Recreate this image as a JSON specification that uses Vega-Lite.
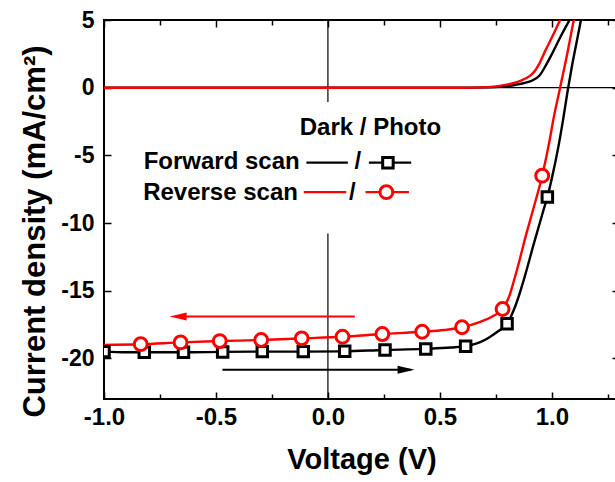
{
  "$schema": "https://vega.github.io/schema/vega-lite/v6.json",
  "width": 515,
  "height": 379,
  "autosize": {"type": "none"},
  "padding": {"left": 104, "top": 20, "right": 0, "bottom": 83},
  "background": "white",
  "data": {"values": [{}]},
  "datasets": {
    "dark": [
      {"scan": "Forward", "V": -1.0, "J": 0}, {"scan": "Forward", "V": 0.6, "J": 0}, {"scan": "Forward", "V": 0.7, "J": 0.02},
      {"scan": "Forward", "V": 0.76, "J": 0.06}, {"scan": "Forward", "V": 0.8, "J": 0.12}, {"scan": "Forward", "V": 0.84, "J": 0.22},
      {"scan": "Forward", "V": 0.88, "J": 0.36}, {"scan": "Forward", "V": 0.915, "J": 0.55}, {"scan": "Forward", "V": 0.945, "J": 0.9},
      {"scan": "Forward", "V": 0.975, "J": 1.7}, {"scan": "Forward", "V": 1.004, "J": 2.6}, {"scan": "Forward", "V": 1.04, "J": 3.8},
      {"scan": "Forward", "V": 1.079, "J": 5.0}, {"scan": "Forward", "V": 1.1, "J": 5.7},
      {"scan": "Reverse", "V": -1.0, "J": 0}, {"scan": "Reverse", "V": 0.6, "J": 0}, {"scan": "Reverse", "V": 0.68, "J": 0.02},
      {"scan": "Reverse", "V": 0.74, "J": 0.08}, {"scan": "Reverse", "V": 0.78, "J": 0.17}, {"scan": "Reverse", "V": 0.82, "J": 0.3},
      {"scan": "Reverse", "V": 0.86, "J": 0.5}, {"scan": "Reverse", "V": 0.9, "J": 0.85}, {"scan": "Reverse", "V": 0.92, "J": 1.15},
      {"scan": "Reverse", "V": 0.945, "J": 1.8}, {"scan": "Reverse", "V": 0.97, "J": 2.7}, {"scan": "Reverse", "V": 1.0, "J": 3.7},
      {"scan": "Reverse", "V": 1.037, "J": 5.0}, {"scan": "Reverse", "V": 1.06, "J": 5.8}
    ],
    "photo": [
      {"scan": "Forward", "V": -1.0, "J": -19.5}, {"scan": "Forward", "V": -0.9, "J": -19.55}, {"scan": "Forward", "V": -0.82, "J": -19.55},
      {"scan": "Forward", "V": -0.65, "J": -19.55}, {"scan": "Forward", "V": -0.47, "J": -19.52}, {"scan": "Forward", "V": -0.29, "J": -19.5},
      {"scan": "Forward", "V": -0.11, "J": -19.5}, {"scan": "Forward", "V": 0.07, "J": -19.48}, {"scan": "Forward", "V": 0.25, "J": -19.38},
      {"scan": "Forward", "V": 0.43, "J": -19.3}, {"scan": "Forward", "V": 0.55, "J": -19.2}, {"scan": "Forward", "V": 0.62, "J": -19.08},
      {"scan": "Forward", "V": 0.68, "J": -18.8}, {"scan": "Forward", "V": 0.72, "J": -18.45}, {"scan": "Forward", "V": 0.76, "J": -18.0},
      {"scan": "Forward", "V": 0.8, "J": -17.44}, {"scan": "Forward", "V": 0.84, "J": -16.0}, {"scan": "Forward", "V": 0.88, "J": -13.9},
      {"scan": "Forward", "V": 0.92, "J": -11.5}, {"scan": "Forward", "V": 0.96, "J": -9.2}, {"scan": "Forward", "V": 0.98, "J": -8.08},
      {"scan": "Forward", "V": 1.0, "J": -6.7}, {"scan": "Forward", "V": 1.03, "J": -4.3}, {"scan": "Forward", "V": 1.05, "J": -2.4},
      {"scan": "Forward", "V": 1.07, "J": -0.3}, {"scan": "Forward", "V": 1.09, "J": 1.6}, {"scan": "Forward", "V": 1.11, "J": 3.3},
      {"scan": "Forward", "V": 1.13, "J": 5.0}, {"scan": "Forward", "V": 1.15, "J": 6.7},
      {"scan": "Reverse", "V": -1.0, "J": -19.0}, {"scan": "Reverse", "V": -0.836, "J": -18.95}, {"scan": "Reverse", "V": -0.658, "J": -18.82},
      {"scan": "Reverse", "V": -0.483, "J": -18.72}, {"scan": "Reverse", "V": -0.298, "J": -18.64}, {"scan": "Reverse", "V": -0.117, "J": -18.52},
      {"scan": "Reverse", "V": 0.065, "J": -18.4}, {"scan": "Reverse", "V": 0.243, "J": -18.2}, {"scan": "Reverse", "V": 0.421, "J": -18.03},
      {"scan": "Reverse", "V": 0.52, "J": -17.9}, {"scan": "Reverse", "V": 0.599, "J": -17.7}, {"scan": "Reverse", "V": 0.677, "J": -17.32},
      {"scan": "Reverse", "V": 0.74, "J": -16.85}, {"scan": "Reverse", "V": 0.78, "J": -16.35}, {"scan": "Reverse", "V": 0.81, "J": -15.4},
      {"scan": "Reverse", "V": 0.83, "J": -14.3}, {"scan": "Reverse", "V": 0.855, "J": -12.8}, {"scan": "Reverse", "V": 0.878, "J": -11.3},
      {"scan": "Reverse", "V": 0.92, "J": -8.8}, {"scan": "Reverse", "V": 0.957, "J": -6.5}, {"scan": "Reverse", "V": 0.99, "J": -3.9},
      {"scan": "Reverse", "V": 1.004, "J": -2.6}, {"scan": "Reverse", "V": 1.037, "J": 0}, {"scan": "Reverse", "V": 1.07, "J": 2.6},
      {"scan": "Reverse", "V": 1.098, "J": 5.0}, {"scan": "Reverse", "V": 1.12, "J": 6.8}
    ],
    "markers": [
      {"scan": "Forward", "V": -1.0, "J": -19.5}, {"scan": "Forward", "V": -0.82, "J": -19.55}, {"scan": "Forward", "V": -0.645, "J": -19.55},
      {"scan": "Forward", "V": -0.47, "J": -19.52}, {"scan": "Forward", "V": -0.293, "J": -19.5}, {"scan": "Forward", "V": -0.11, "J": -19.5},
      {"scan": "Forward", "V": 0.075, "J": -19.48}, {"scan": "Forward", "V": 0.255, "J": -19.38}, {"scan": "Forward", "V": 0.437, "J": -19.3},
      {"scan": "Forward", "V": 0.615, "J": -19.1}, {"scan": "Forward", "V": 0.8, "J": -17.44}, {"scan": "Forward", "V": 0.98, "J": -8.08},
      {"scan": "Reverse", "V": -0.836, "J": -18.95}, {"scan": "Reverse", "V": -0.658, "J": -18.82}, {"scan": "Reverse", "V": -0.483, "J": -18.72},
      {"scan": "Reverse", "V": -0.298, "J": -18.64}, {"scan": "Reverse", "V": -0.117, "J": -18.52}, {"scan": "Reverse", "V": 0.065, "J": -18.4},
      {"scan": "Reverse", "V": 0.243, "J": -18.2}, {"scan": "Reverse", "V": 0.421, "J": -18.03}, {"scan": "Reverse", "V": 0.599, "J": -17.7},
      {"scan": "Reverse", "V": 0.78, "J": -16.35}, {"scan": "Reverse", "V": 0.957, "J": -6.5}
    ],
    "arrows": [
      {"scan": "Reverse", "V": -0.68, "V2": 0.12, "J": -16.9},
      {"scan": "Forward", "V": -0.471, "V2": 0.37, "J": -20.84}
    ],
    "heads": [
      {"scan": "Reverse", "dir": "left", "V": -0.669, "J": -16.9},
      {"scan": "Forward", "dir": "right", "V": 0.349, "J": -20.84}
    ],
    "legLines": [
      {"scan": "Forward", "V": -0.096, "V2": 0.089, "J": -5.54},
      {"scan": "Forward", "V": 0.183, "V2": 0.372, "J": -5.54},
      {"scan": "Reverse", "V": -0.108, "V2": 0.082, "J": -7.72},
      {"scan": "Reverse", "V": 0.168, "V2": 0.362, "J": -7.72}
    ],
    "legMarks": [
      {"scan": "Forward", "V": 0.268, "J": -5.54},
      {"scan": "Reverse", "V": 0.261, "J": -7.72}
    ],
    "legNames": [
      {"label": "Forward scan", "V": -0.126, "J": -5.99},
      {"label": "Reverse scan", "V": -0.134, "J": -8.28}
    ],
    "legHeads": [
      {"label": "Dark / Photo", "V": 0.19, "J": -3.53},
      {"label": "/", "V": 0.134, "J": -5.99},
      {"label": "/", "V": 0.109, "J": -8.28}
    ]
  },
  "resolve": {"axis": {"x": "independent", "y": "independent"}, "scale": {"shape": "independent"}},
  "layer": [
    {
      "mark": {"type": "rule", "color": "black", "strokeWidth": 1.2},
      "encoding": {
        "y": {"datum": 0, "type": "quantitative", "scale": {"domain": [-23, 5], "nice": false, "zero": false}, "axis": null}
      }
    },
    {
      "mark": {"type": "rule", "color": "black", "strokeWidth": 1.2},
      "encoding": {
        "x": {"datum": 0, "type": "quantitative", "scale": {"domain": [-1, 1.3], "nice": false, "zero": false}, "axis": null}
      }
    },
    {
      "mark": {"type": "rect", "color": "white"},
      "encoding": {
        "x": {"datum": -0.85, "type": "quantitative", "scale": {"domain": [-1, 1.3], "nice": false, "zero": false}, "axis": null},
        "x2": {"datum": 0.55},
        "y": {"datum": -1.06, "type": "quantitative", "scale": {"domain": [-23, 5], "nice": false, "zero": false}, "axis": null},
        "y2": {"datum": -10.77}
      }
    },
    {
      "data": {"name": "dark"},
      "mark": {"type": "line", "strokeWidth": 2.4, "clip": true, "interpolate": "monotone"},
      "encoding": {
        "x": {"field": "V", "type": "quantitative", "scale": {"domain": [-1, 1.3], "nice": false, "zero": false},
          "axis": {"orient": "bottom", "values": [-1, -0.5, 0, 0.5, 1], "labelExpr": "replace(format(datum.value, '.1f'), '\u2212', '-')",
            "ticks": false, "domain": false, "labelFontSize": 24, "labelPadding": 6, "labelFlush": false, "labelOverlap": false,
            "title": "Voltage (V)", "titleFontSize": 29, "titlePadding": 16}},
        "y": {"field": "J", "type": "quantitative", "scale": {"domain": [-23, 5], "nice": false, "zero": false},
          "axis": {"orient": "left", "values": [-20, -15, -10, -5, 0, 5], "labelExpr": "'' + datum.value",
            "ticks": false, "domain": false, "labelFontSize": 23, "labelPadding": 10, "labelFlush": false, "labelOverlap": false,
            "title": "Current density (mA/cm²)", "titleFontSize": 31, "titlePadding": 9, "titleY": 211}},
        "color": {"field": "scan", "type": "nominal", "scale": {"domain": ["Forward", "Reverse"], "range": ["black", "#ff0000"]}, "legend": null}
      }
    },
    {
      "data": {"name": "photo"},
      "mark": {"type": "line", "strokeWidth": 2.4, "clip": true, "interpolate": "monotone"},
      "encoding": {
        "x": {"field": "V", "type": "quantitative", "scale": {"domain": [-1, 1.3], "nice": false, "zero": false},
          "axis": {"orient": "bottom", "values": [-1, -0.5, 0, 0.5, 1], "tickSize": -7, "tickWidth": 1.5, "labels": false, "domain": false, "title": null}},
        "y": {"field": "J", "type": "quantitative", "scale": {"domain": [-23, 5], "nice": false, "zero": false},
          "axis": {"orient": "left", "values": [-20, -15, -10, -5, 0, 5], "tickSize": -7, "tickWidth": 1.5, "labels": false, "domain": false, "title": null}},
        "color": {"field": "scan", "type": "nominal", "scale": {"domain": ["Forward", "Reverse"], "range": ["black", "#ff0000"]}, "legend": null}
      }
    },
    {
      "data": {"name": "markers"},
      "mark": {"type": "point", "filled": false, "fill": "white", "strokeWidth": 3, "opacity": 1, "clip": true},
      "encoding": {
        "x": {"field": "V", "type": "quantitative", "scale": {"domain": [-1, 1.3], "nice": false, "zero": false},
          "axis": {"orient": "bottom", "values": [-0.75, -0.25, 0.25, 0.75, 1.25], "tickSize": -5, "tickWidth": 1.5, "labels": false, "domain": false, "title": null}},
        "y": {"field": "J", "type": "quantitative", "scale": {"domain": [-23, 5], "nice": false, "zero": false},
          "axis": {"orient": "right", "values": [-20, -15, -10, -5, 0, 5], "tickSize": -7, "tickWidth": 1.5, "labels": false, "domain": false, "title": null}},
        "color": {"field": "scan", "type": "nominal", "scale": {"domain": ["Forward", "Reverse"], "range": ["black", "#ff0000"]}, "legend": null},
        "shape": {"field": "scan", "type": "nominal", "scale": {"domain": ["Forward", "Reverse"], "range": ["square", "circle"]}, "legend": null},
        "size": {"field": "scan", "type": "nominal", "scale": {"domain": ["Forward", "Reverse"], "range": [110, 165]}, "legend": null}
      }
    },
    {
      "data": {"name": "arrows"},
      "mark": {"type": "rule", "strokeWidth": 2},
      "encoding": {
        "x": {"field": "V", "type": "quantitative", "scale": {"domain": [-1, 1.3], "nice": false, "zero": false},
          "axis": {"orient": "top", "values": [-1, -0.5, 0, 0.5, 1], "tickSize": -7, "tickWidth": 1.5, "labels": false, "domain": false, "title": null}},
        "x2": {"field": "V2"},
        "y": {"field": "J", "type": "quantitative", "scale": {"domain": [-23, 5], "nice": false, "zero": false}, "axis": null},
        "color": {"field": "scan", "type": "nominal", "scale": {"domain": ["Forward", "Reverse"], "range": ["black", "#ff0000"]}, "legend": null}
      }
    },
    {
      "data": {"name": "heads"},
      "mark": {"type": "point", "filled": true, "opacity": 1, "size": 289, "strokeWidth": 0},
      "encoding": {
        "x": {"field": "V", "type": "quantitative", "scale": {"domain": [-1, 1.3], "nice": false, "zero": false},
          "axis": {"orient": "top", "values": [-0.75, -0.25, 0.25, 0.75, 1.25], "tickSize": -5, "tickWidth": 1.5, "labels": false, "domain": false, "title": null}},
        "y": {"field": "J", "type": "quantitative", "scale": {"domain": [-23, 5], "nice": false, "zero": false}, "axis": null},
        "color": {"field": "scan", "type": "nominal", "scale": {"domain": ["Forward", "Reverse"], "range": ["black", "#ff0000"]}, "legend": null},
        "shape": {"field": "dir", "type": "nominal", "scale": {"domain": ["left", "right"], "range": ["M -1 0 L 1 -0.47 L 1 0.47 Z", "M 1 0 L -1 -0.47 L -1 0.47 Z"]}, "legend": null}
      }
    },
    {
      "data": {"name": "legLines"},
      "mark": {"type": "rule", "strokeWidth": 2.2},
      "encoding": {
        "x": {"field": "V", "type": "quantitative", "scale": {"domain": [-1, 1.3], "nice": false, "zero": false}, "axis": null},
        "x2": {"field": "V2"},
        "y": {"field": "J", "type": "quantitative", "scale": {"domain": [-23, 5], "nice": false, "zero": false}, "axis": null},
        "color": {"field": "scan", "type": "nominal", "scale": {"domain": ["Forward", "Reverse"], "range": ["black", "#ff0000"]}, "legend": null}
      }
    },
    {
      "data": {"name": "legMarks"},
      "mark": {"type": "point", "filled": false, "fill": "white", "strokeWidth": 3, "opacity": 1},
      "encoding": {
        "x": {"field": "V", "type": "quantitative", "scale": {"domain": [-1, 1.3], "nice": false, "zero": false}, "axis": null},
        "y": {"field": "J", "type": "quantitative", "scale": {"domain": [-23, 5], "nice": false, "zero": false}, "axis": null},
        "color": {"field": "scan", "type": "nominal", "scale": {"domain": ["Forward", "Reverse"], "range": ["black", "#ff0000"]}, "legend": null},
        "shape": {"field": "scan", "type": "nominal", "scale": {"domain": ["Forward", "Reverse"], "range": ["square", "circle"]}, "legend": null},
        "size": {"field": "scan", "type": "nominal", "scale": {"domain": ["Forward", "Reverse"], "range": [110, 165]}, "legend": null}
      }
    },
    {
      "data": {"name": "legNames"},
      "mark": {"type": "text", "align": "right", "baseline": "alphabetic", "font": "Liberation Sans", "fontWeight": "bold", "fontSize": 24, "color": "black"},
      "encoding": {
        "x": {"field": "V", "type": "quantitative", "scale": {"domain": [-1, 1.3], "nice": false, "zero": false}, "axis": null},
        "y": {"field": "J", "type": "quantitative", "scale": {"domain": [-23, 5], "nice": false, "zero": false}, "axis": null},
        "text": {"field": "label"}
      }
    },
    {
      "data": {"name": "legHeads"},
      "mark": {"type": "text", "align": "center", "baseline": "alphabetic", "font": "Liberation Sans", "fontWeight": "bold", "fontSize": 24, "color": "black"},
      "encoding": {
        "x": {"field": "V", "type": "quantitative", "scale": {"domain": [-1, 1.3], "nice": false, "zero": false}, "axis": null},
        "y": {"field": "J", "type": "quantitative", "scale": {"domain": [-23, 5], "nice": false, "zero": false}, "axis": null},
        "text": {"field": "label"}
      }
    }
  ],
  "config": {
    "view": {"stroke": "black", "strokeWidth": 2},
    "axis": {"grid": false, "labelFont": "Liberation Sans", "titleFont": "Liberation Sans", "labelFontWeight": "bold", "titleFontWeight": "bold",
      "labelColor": "black", "titleColor": "black", "tickColor": "black"}
  }
}
